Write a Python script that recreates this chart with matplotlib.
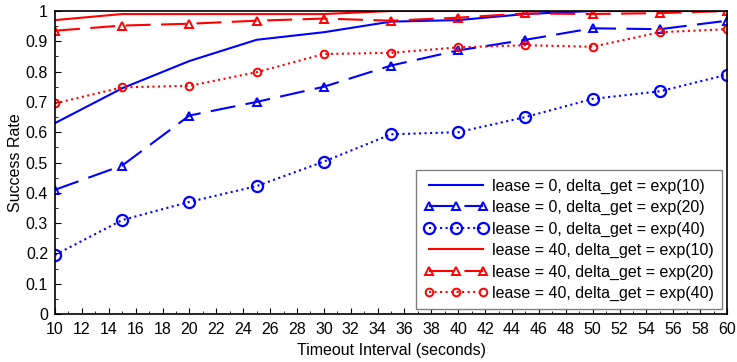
import matplotlib.pyplot as plt
from matplotlib.ticker import MultipleLocator

plt.rcParams['font.family'] = ['Liberation Sans', 'DejaVu Sans']

timeout = [10, 15, 20, 25, 30, 35, 40, 45, 50, 55, 60]

# lease = 0
l0_exp10 = [0.63, 0.745, 0.835, 0.905, 0.93, 0.965, 0.97, 0.99, 1.0, 1.0, 1.0]
l0_exp20 = [0.41, 0.49, 0.655, 0.70, 0.75, 0.82, 0.87, 0.905, 0.943, 0.94, 0.968]
l0_exp40 = [0.195, 0.31, 0.37, 0.422, 0.503, 0.593, 0.60, 0.65, 0.71, 0.735, 0.79]

# lease = 40
l40_exp10 = [0.97, 0.99, 0.99, 0.99, 0.99, 1.0, 1.0, 1.0, 1.0, 1.0, 1.0]
l40_exp20 = [0.935, 0.952, 0.958, 0.968, 0.975, 0.968, 0.978, 0.992, 0.99, 0.993, 1.0]
l40_exp40 = [0.695, 0.748, 0.753, 0.798, 0.858, 0.862, 0.88, 0.887, 0.882, 0.93, 0.94]

ytick_labels = ['0', '0.1', '0.2', '0.3', '0.4', '0.5', '0.6', '0.7', '0.8', '0.9', '1']

fs = 11.5
dash = (0, (12, 5))
fig = plt.figure(figsize=(7.37, 3.62), dpi=100)
ax = fig.add_axes([0.0746, 0.1326, 0.912, 0.837])

ax.plot(timeout, l0_exp10, color='blue', lw=1.5, label='lease = 0, delta_get = exp(10)')
ax.plot(timeout, l0_exp20, color='blue', lw=1.5, ls=dash, marker='^', ms=6,
        mfc='none', mew=1.4, label='lease = 0, delta_get = exp(20)')
ax.plot(timeout, l0_exp40, color='blue', lw=1.5, ls=':', marker='o', ms=8,
        mfc='none', mew=1.6, label='lease = 0, delta_get = exp(40)')
ax.plot(timeout, l40_exp10, color='red', lw=1.5, label='lease = 40, delta_get = exp(10)')
ax.plot(timeout, l40_exp20, color='red', lw=1.5, ls=dash, marker='^', ms=6,
        mfc='none', mew=1.4, label='lease = 40, delta_get = exp(20)')
ax.plot(timeout, l40_exp40, color='red', lw=1.5, ls=':', marker='o', ms=5.5,
        mfc='none', mew=1.4, label='lease = 40, delta_get = exp(40)')

ax.set_xlim(10, 60)
ax.set_ylim(0, 1)
ax.xaxis.set_major_locator(MultipleLocator(2))
ax.xaxis.set_minor_locator(MultipleLocator(1))
ax.set_yticks([i / 10 for i in range(11)])
ax.set_yticklabels(ytick_labels)
ax.yaxis.set_minor_locator(MultipleLocator(0.05))
ax.tick_params(axis='both', which='both', direction='in', labelsize=fs)
ax.tick_params(axis='y', which='major', length=4, pad=5)
ax.tick_params(axis='x', which='major', length=4, pad=6)
ax.tick_params(which='minor', length=2)
for s in ax.spines.values():
    s.set_linewidth(1.2)

ax.set_xlabel('Timeout Interval (seconds)', fontsize=fs, labelpad=4)
ax.set_ylabel('Success Rate', fontsize=fs, labelpad=2)

leg = ax.legend(loc='lower right', numpoints=3, fontsize=fs, fancybox=False,
                framealpha=1, edgecolor='gray', handlelength=4.0, handletextpad=0.3,
                labelspacing=0.4, borderaxespad=0.3, borderpad=0.5)
leg.get_frame().set_linewidth(1.0)

fig.savefig('out.png', dpi=100)
